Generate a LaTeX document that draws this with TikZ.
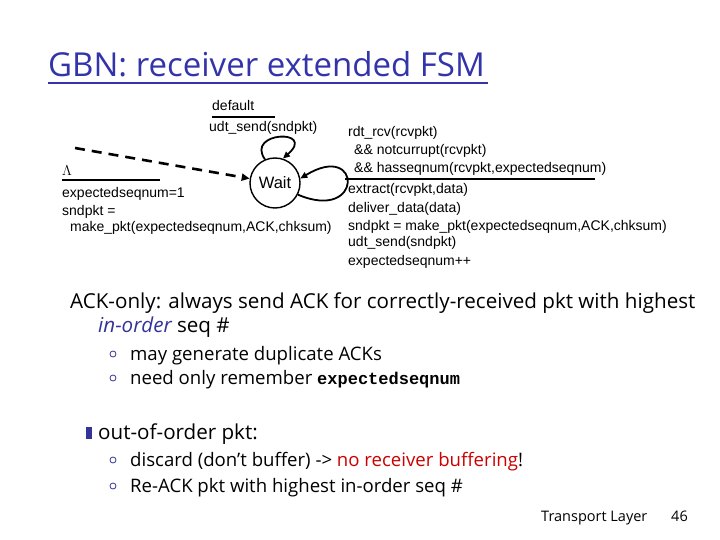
\documentclass[tikz,border=0pt]{standalone}
\usepackage{fontspec}
\setmainfont{Open Sans}
\newfontfamily\fsmfont{Liberation Sans}
\setmonofont{Liberation Mono}
\usetikzlibrary{arrows.meta}
\definecolor{titleblue}{RGB}{51,51,170}
\definecolor{bulletblue}{RGB}{51,51,153}
\definecolor{alertred}{RGB}{204,0,0}
\tikzset{
  fsm/.style={font=\fsmfont\fontsize{14}{17}\selectfont, anchor=base west, inner sep=0pt},
  slide/.style={font=\fontsize{20.6}{24}\selectfont, anchor=base west, inner sep=0pt},
  sub/.style={font=\fontsize{18.6}{22}\selectfont, anchor=base west, inner sep=0pt},
  waitstate/.style={draw, line width=1.4pt, circle, minimum size=50pt, inner sep=0pt, font=\fsmfont\fontsize{16.5}{16.5}\selectfont},
  selfloop/.style={line width=1.8pt, -{Triangle[length=7pt,width=6pt]}},
  guard/.style={line width=1.3pt},
  ring/.style={draw=bulletblue, line width=0.8pt},
}
\begin{document}
\begin{tikzpicture}[x=1pt,y=-1pt]
    \useasboundingbox (0,0) rectangle (720,540);

    % title
    \node[anchor=base west, inner sep=0pt, text=titleblue, font=\fontsize{33}{36}\selectfont] (title) at (48,77) {GBN: receiver extended FSM};
    \draw[titleblue, line width=1.5pt] (48,83) -- (488,83);

    % the state
    \node[waitstate] (wait) at (275,183) {Wait};
    \coordinate (init) at (75,148);
    \draw[line width=2.6pt, dash pattern=on 10pt off 7pt, -{Triangle[length=8pt,width=7pt]}] (init) -- (wait);
    \draw[selfloop] (wait.113) .. controls +(-20,-28) and +(34,-30) .. (wait.72);
    \draw[selfloop] (wait.-27) .. controls +(66,28) and +(62,-38) .. (wait.10);

    % default transition
    \node[fsm] (dflt) at (212,111) {default};
    \draw[guard] (212,117) -- (275,117);
    \node[fsm] (dfltact) at (209,132) {udt\_send(sndpkt)};

    % initial transition
    \node[fsm, font=\fontsize{15}{15}\selectfont] (lam) at (62,176) {$\Lambda$};
    \draw[guard] (62,180) -- (160,180);
    \node[fsm] (init1) at (62,198) {expectedseqnum=1};
    \node[fsm] (init2) at (62,215) {sndpkt =};
    \node[fsm] (init3) at (70,232) {make\_pkt(expectedseqnum,ACK,chksum)};

    % in-order transition
    \node[fsm] (ev1) at (348,137) {rdt\_rcv(rcvpkt)};
    \node[fsm] (ev2) at (354,155) {\&\& notcurrupt(rcvpkt)};
    \node[fsm] (ev3) at (354,173) {\&\& hasseqnum(rcvpkt,expectedseqnum)};
    \draw[guard] (345,179) -- (595,179);
    \node[fsm] (act1) at (348,194) {extract(rcvpkt,data)};
    \node[fsm] (act2) at (348,212) {deliver\_data(data)};
    \node[fsm] (act3) at (348,230) {sndpkt = make\_pkt(expectedseqnum,ACK,chksum)};
    \node[fsm] (act4) at (348,247) {udt\_send(sndpkt)};
    \node[fsm] (act5) at (348,265) {expectedseqnum++};

    % slide text
    \node[slide] (ackonly) at (70,308) {ACK-only: always send ACK for correctly-received pkt with highest};
    \node[slide] (inorder) at (98,332) {\textcolor{bulletblue}{\itshape in-order} seq \#};
    \draw[ring] (113,354) circle (3pt);
    \node[sub] (dup) at (130,360) {may generate duplicate ACKs};
    \draw[ring] (113,378) circle (3pt);
    \node[sub] (rem) at (130,384) {need only remember {\ttfamily\bfseries\fontsize{17}{20}\selectfont expectedseqnum}};

    \fill[bulletblue] (86,427) rectangle (92,439);
    \node[slide] (ooo) at (98,439) {out-of-order pkt:};
    \draw[ring] (113,460) circle (3pt);
    \node[sub] (disc) at (130,466) {discard (don't buffer) -> \textcolor{alertred}{no receiver buffering}!};
    \draw[ring] (113,486) circle (3pt);
    \node[sub] (reack) at (130,492) {Re-ACK pkt with highest in-order seq \#};

    % footer
    \node[anchor=base west, inner sep=0pt, font=\fontsize{14.5}{14.5}\selectfont] (layer) at (541,521) {Transport Layer};
    \node[anchor=base west, inner sep=0pt, font=\fontsize{14.5}{14.5}\selectfont] (page) at (671,521) {46};
\end{tikzpicture}
\end{document}
